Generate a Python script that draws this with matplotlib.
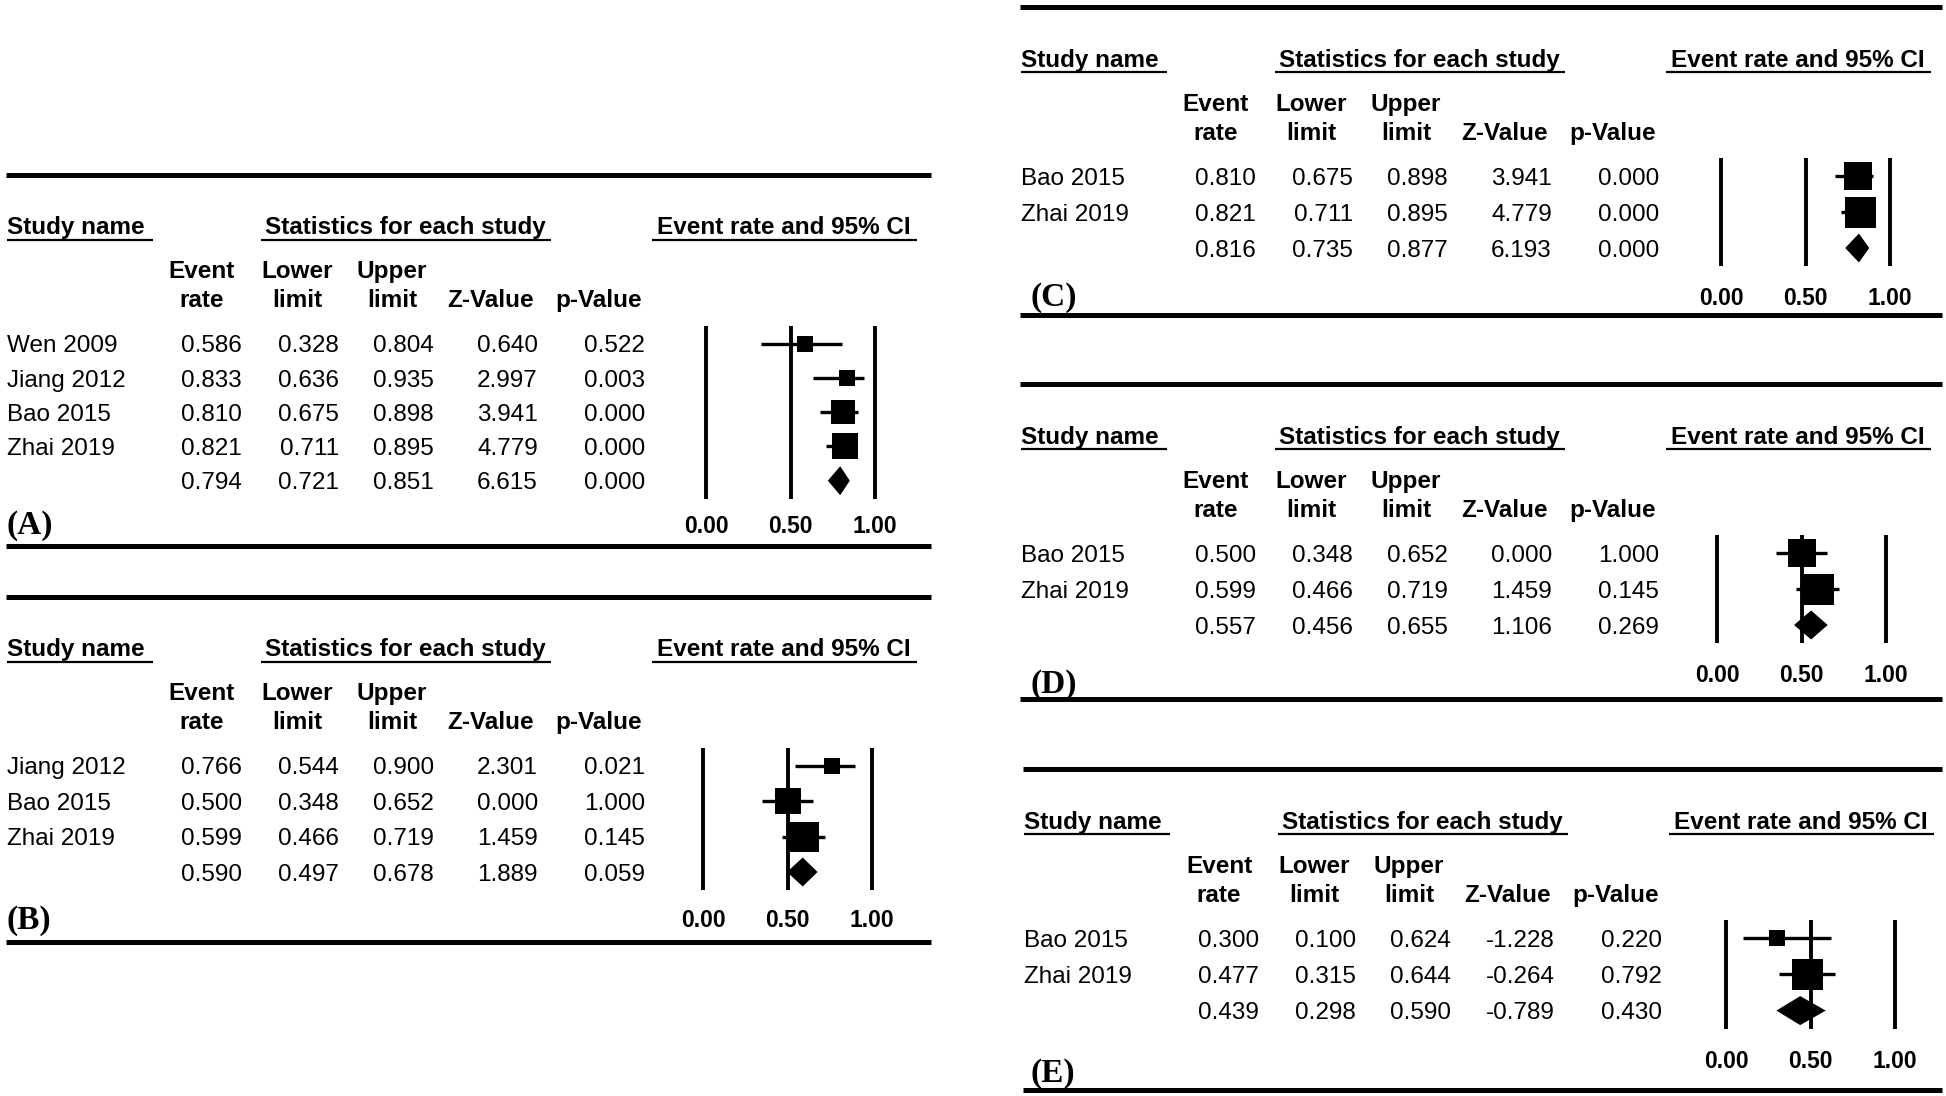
import numpy as np
import matplotlib
matplotlib.use("Agg")
import matplotlib.pyplot as plt

# ---- data ----
names_a = ["Wen 2009", "Jiang 2012", "Bao 2015", "Zhai 2019", ""]
rate_a = [0.586, 0.833, 0.810, 0.821, 0.794]
low_a = [0.328, 0.636, 0.675, 0.711, 0.721]
up_a = [0.804, 0.935, 0.898, 0.895, 0.851]
z_a = [0.640, 2.997, 3.941, 4.779, 6.615]
p_a = [0.522, 0.003, 0.000, 0.000, 0.000]

names_b = ["Jiang 2012", "Bao 2015", "Zhai 2019", ""]
rate_b = [0.766, 0.500, 0.599, 0.590]
low_b = [0.544, 0.348, 0.466, 0.497]
up_b = [0.900, 0.652, 0.719, 0.678]
z_b = [2.301, 0.000, 1.459, 1.889]
p_b = [0.021, 1.000, 0.145, 0.059]

names_c = ["Bao 2015", "Zhai 2019", ""]
rate_c = [0.810, 0.821, 0.816]
low_c = [0.675, 0.711, 0.735]
up_c = [0.898, 0.895, 0.877]
z_c = [3.941, 4.779, 6.193]
p_c = [0.000, 0.000, 0.000]

names_d = ["Bao 2015", "Zhai 2019", ""]
rate_d = [0.500, 0.599, 0.557]
low_d = [0.348, 0.466, 0.456]
up_d = [0.652, 0.719, 0.655]
z_d = [0.000, 1.459, 1.106]
p_d = [1.000, 0.145, 0.269]

names_e = ["Bao 2015", "Zhai 2019", ""]
rate_e = [0.300, 0.477, 0.439]
low_e = [0.100, 0.315, 0.298]
up_e = [0.624, 0.644, 0.590]
z_e = [-1.228, -0.264, -0.789]
p_e = [0.220, 0.792, 0.430]

tick_vals = [0.0, 0.5, 1.0]
col_heads1 = ["Event", "Lower", "Upper", "", ""]
col_heads2 = ["rate", "limit", "limit", "Z-Value", "p-Value"]

W, H = 1946, 1096
FS = 17.5
SANS = "Liberation Sans"
SERIF = "Liberation Serif"
plt.rcParams["font.family"] = SANS


def logit(v):
    v = np.asarray(v)
    return np.log(v / (1 - v))


def draw_panel(fig, bg, names, rate, low, up, zv, pv, tag,
               x0, xr, row1, step, tick_y, tag_x, tag_y, y_bot, fx, sq=42):
    n = len(names)
    rows = row1 + step * np.arange(n)
    off = 0.36 * FS * 100 / 72  # baseline below visual centre
    # rules
    bg.hlines([row1 - 169, y_bot], x0 - 1, xr, color="k", lw=3.6)
    # main headers
    hy = row1 - 118 + off
    bg.text(x0, hy, "Study name", fontsize=FS, fontweight="bold", ha="left", va="baseline")
    bg.text(x0 + 398, hy, "Statistics for each study", fontsize=FS, fontweight="bold",
            ha="center", va="baseline")
    bg.text(x0 + 777, hy, "Event rate and 95% CI", fontsize=FS, fontweight="bold",
            ha="center", va="baseline")
    uy = row1 - 104
    for a, b in [(0, 146), (254, 544), (645, 910)]:
        bg.hlines(uy, x0 + a, x0 + b, color="k", lw=1.6)
    # column headers
    centers = [195, 290, 385, 484, 592]
    for c, t1, t2 in zip(centers, col_heads1, col_heads2):
        if t1:
            bg.text(x0 + c, row1 - 74 + off, t1, fontsize=FS, fontweight="bold",
                    ha="center", va="baseline")
        bg.text(x0 + c, row1 - 45 + off, t2, fontsize=FS, fontweight="bold",
                ha="center", va="baseline")
    # table rows
    rights = [235, 332, 427, 531, 638]
    for i in range(n):
        y = rows[i] + off
        bg.text(x0, y, names[i], fontsize=FS, ha="left", va="baseline")
        for r, v in zip(rights, [rate[i], low[i], up[i], zv[i], pv[i]]):
            bg.text(x0 + r, y, "%.3f" % v, fontsize=FS, ha="right", va="baseline")
    bg.text(x0 + tag_x, tag_y + 11, tag, fontsize=24, fontweight="bold",
            family=SERIF, ha="left", va="baseline")

    # forest plot
    vtop, vbot = row1 - 18, rows[-1] + 18
    ax = fig.add_axes([fx / W, 1 - vbot / H, 169 / W, (vbot - vtop) / H])
    ax.set_xlim(0, 1)
    ax.set_ylim((vbot - row1) / step, (vtop - row1) / step)
    for s in ax.spines.values():
        s.set_visible(False)
    ax.patch.set_alpha(0)
    ax.set_yticks([])
    ax.set_xticks(tick_vals)
    ax.set_xticklabels(["%.2f" % t for t in tick_vals], fontsize=16.5, fontweight="bold")
    pad = (tick_y - 8.2 - vbot) * 72 / 100
    ax.tick_params(axis="x", length=0, pad=pad)
    for t in tick_vals:
        ax.axvline(t, color="k", lw=2.8, solid_capstyle="butt", clip_on=False)

    k = n - 1
    se = (logit(up[:k]) - logit(low[:k])) / (2 * 1.96)
    w = 1 / se ** 2
    rel = w / w.sum()
    for i in range(k):
        ax.hlines(i, low[i], up[i], color="k", lw=2.4)
        side = min(sq * np.sqrt(rel[i]), 31)
        ax.plot(rate[i], i, marker="s", ms=side * 0.72, color="k", mew=0)
    h = 14.5 / step
    ax.fill([low[k], rate[k], up[k], rate[k]], [k, k - h, k, k + h], color="k", lw=0)


fig = plt.figure(figsize=(W / 100, H / 100), dpi=100)
bg = fig.add_axes([0, 0, 1, 1])
bg.set_xlim(0, W)
bg.set_ylim(H, 0)
bg.axis("off")

draw_panel(fig, bg, names_a, rate_a, low_a, up_a, z_a, p_a, "(A)",
           7, 931, 343.5, 34.3, 523, 0, 523, 546, 706)
draw_panel(fig, bg, names_b, rate_b, low_b, up_b, z_b, p_b, "(B)",
           7, 931, 765.5, 35.5, 917, 0, 918, 942, 703)
draw_panel(fig, bg, names_c, rate_c, low_c, up_c, z_c, p_c, "(C)",
           1021, 1942, 176, 36, 295, 9, 295, 314.5, 1721)
draw_panel(fig, bg, names_d, rate_d, low_d, up_d, z_d, p_d, "(D)",
           1021, 1942, 553, 36, 672, 9, 682, 698.5, 1717)
draw_panel(fig, bg, names_e, rate_e, low_e, up_e, z_e, p_e, "(E)",
           1024, 1942, 938, 36.3, 1058, 6, 1071, 1090, 1726, sq=36)

fig.savefig("out.png", dpi=100)
